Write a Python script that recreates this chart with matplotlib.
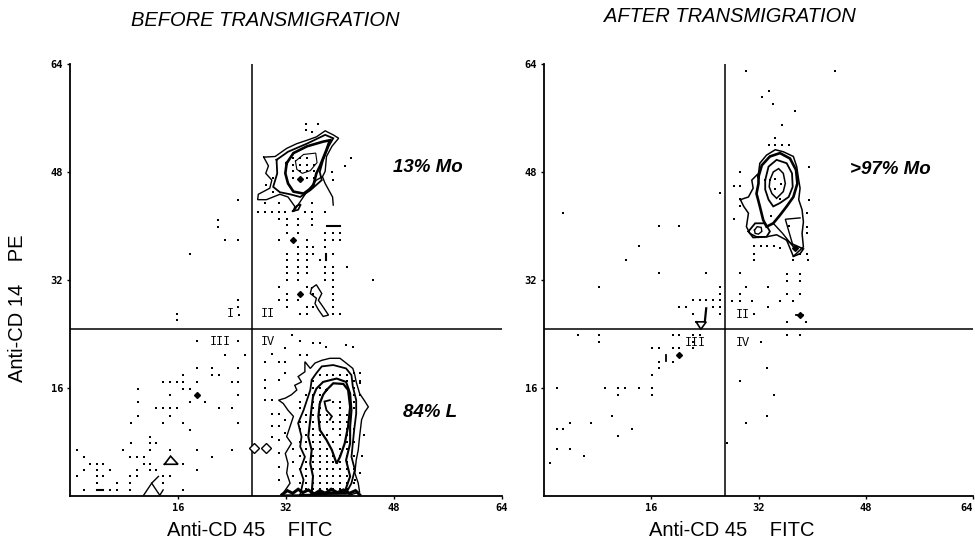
"""
Flow cytometry contour plots, before / after transmigration
"""
import matplotlib
matplotlib.use("Agg")
import matplotlib.pyplot as plt

# ---- data (channel units, 0-64) ----
ticks = [16, 32, 48, 64]
quad_x = 27.0
quad_y = 24.8

# BEFORE: monocyte cluster (quadrant II)
mo_outer = [(28.7, 50.2), (30.4, 50.3), (32.1, 51.5), (33.6, 52.2), (35.1, 52.7),
            (36.5, 53.2), (37.8, 54.1), (39.0, 53.5), (39.8, 53.0), (38.8, 51.8),
            (38.0, 50.3), (37.8, 48.1), (37.4, 47.3), (36.5, 46.8), (35.1, 45.1),
            (34.1, 43.6), (33.1, 42.1), (33.3, 42.9), (32.3, 44.3), (31.1, 44.7),
            (30.1, 44.3), (29.1, 43.9), (27.8, 43.9), (27.9, 44.7), (29.6, 45.6),
            (29.9, 46.8), (29.0, 47.8), (29.4, 48.9)]
mo_tail = [(37.4, 47.3), (37.8, 46.3), (38.9, 44.3), (39.0, 43.1)]
mo_mid = [(30.6, 49.8), (32.3, 51.0), (35.1, 52.2), (37.8, 53.5), (39.0, 53.0),
          (38.3, 51.8), (37.5, 49.8), (37.0, 48.0), (37.3, 46.8), (35.6, 45.3),
          (34.1, 44.3), (32.6, 44.7), (31.1, 45.0), (30.1, 45.8), (30.7, 47.8)]
mo_inner = [(32.1, 49.3), (33.1, 50.8), (35.1, 51.8), (37.5, 52.5), (38.5, 52.7),
            (38.0, 51.3), (37.0, 48.8), (36.5, 47.8), (36.0, 45.8), (34.6, 44.8),
            (33.1, 45.1), (32.3, 46.3), (31.9, 47.8)]
mo_core = [(33.4, 49.6), (34.6, 50.6), (36.4, 50.8), (36.6, 49.4), (35.6, 48.2),
           (34.4, 47.8), (33.6, 48.4)]
mo_blob = [(33.0, 42.2), (33.6, 43.0), (34.2, 43.2), (33.8, 42.4)]
mo_small = [(35.8, 30.8), (36.5, 31.3), (37.3, 30.0), (36.8, 29.0), (37.5, 28.0),
            (38.3, 26.8), (37.5, 26.6), (36.8, 27.6), (36.3, 28.5), (36.5, 29.3),
            (35.6, 30.0)]

# BEFORE: lymphocyte cluster (quadrant IV)
ly_c1 = [(31.4, 0.15), (32.6, 1.9), (32.1, 3.4), (32.3, 4.8), (31.9, 6.3), (32.8, 7.8),
         (32.1, 8.8), (32.6, 10.3), (33.1, 11.8), (32.3, 12.7), (31.6, 13.7), (30.9, 14.2),
         (31.9, 14.5), (32.8, 15.0), (33.6, 15.7), (33.3, 16.4), (34.3, 16.9), (33.8, 17.7),
         (34.8, 18.4), (34.8, 19.9), (35.6, 18.9), (36.3, 19.7), (37.3, 20.1), (38.5, 20.4),
         (40.0, 20.4), (40.9, 19.7), (41.9, 18.9), (42.2, 17.9), (42.4, 16.9), (42.9, 15.2),
         (43.7, 14.0), (44.2, 13.2), (43.7, 12.5), (43.2, 11.3), (42.9, 8.8), (42.7, 6.8),
         (42.4, 5.3), (42.2, 3.4), (42.7, 1.9), (42.9, 0.6), (41.5, 0.15)]
ly_c2 = [(34.1, 0.15), (34.6, 2.4), (34.1, 3.9), (34.8, 5.8), (34.1, 7.3), (34.3, 8.8),
         (33.8, 10.8), (34.6, 12.7), (35.1, 14.2), (35.6, 15.7), (35.8, 17.2), (36.5, 18.2),
         (37.3, 19.2), (39.0, 19.4), (40.9, 18.9), (41.7, 17.9), (41.9, 16.2), (42.4, 14.2),
         (42.4, 12.2), (42.1, 9.8), (41.9, 7.8), (41.7, 5.8), (42.2, 3.9), (41.7, 1.9),
         (40.9, 0.4)]
ly_c3 = [(35.8, 0.4), (36.0, 2.9), (35.6, 4.8), (35.8, 6.8), (35.3, 8.8), (35.6, 11.3),
         (35.8, 13.2), (36.0, 14.7), (36.5, 15.9), (37.5, 16.9), (39.5, 17.4), (40.9, 16.9),
         (41.5, 15.2), (41.7, 12.7), (41.5, 10.3), (41.5, 7.8), (40.9, 5.3), (41.5, 2.9),
         (40.7, 0.6)]
ly_c4 = [(38.0, 15.7), (39.0, 16.7), (40.5, 16.6), (41.2, 15.7), (41.5, 13.2), (41.2, 10.3),
         (40.7, 7.8), (40.0, 5.8), (39.5, 4.8), (38.8, 6.8), (38.0, 8.3), (37.0, 9.8),
         (36.8, 11.8), (37.0, 13.7), (37.5, 15.0)]
ly_core = [(38.5, 14.2), (37.7, 14.0), (37.8, 13.5), (38.0, 12.7), (38.8, 11.8), (38.5, 11.3)]
ly_base = [(31.4, 0.2), (32.2, 0.8), (33.0, 0.4), (33.8, 1.0), (34.5, 0.5), (35.3, 0.9),
           (36.2, 0.3), (37.0, 0.8), (37.8, 0.4), (38.7, 1.0), (39.6, 0.5), (40.5, 0.9),
           (41.4, 0.4), (42.3, 0.8), (42.9, 0.2)]

before_tri = [(14.0, 4.7), (16.0, 4.7), (14.9, 5.9)]
before_fork = [[(13.1, 2.9), (12.1, 1.9), (10.9, 0.1)], [(12.1, 1.9), (13.3, 0.1), (13.8, 0.9)]]
before_dashes = [[(4.0, 0.9), (4.9, 0.9)], [(38.0, 40.0), (40.0, 40.0)], [(37.9, 35.0), (37.9, 35.9)]]
before_filled = [(34.1, 46.9), (33.1, 37.9), (34.1, 29.9), (18.8, 15.0)]
before_hollow = [(27.2, 7.1), (29.0, 7.1)]

before_dots = [
    (34.9, 55.1), (36.8, 55.1), (34.9, 54.2), (35.8, 54.0), (40.7, 48.9), (41.7, 50.1),
    (38.8, 48.0), (39.0, 46.8),
    (33.1, 50.1), (34.1, 50.1), (35.1, 50.1), (33.1, 49.1), (34.1, 49.1), (35.1, 49.1),
    (36.1, 49.1), (33.1, 48.1), (34.1, 48.1), (35.1, 48.1), (36.1, 48.1), (33.1, 47.1),
    (35.1, 47.1), (36.1, 47.1), (30.1, 47.1), (29.1, 46.1), (30.1, 45.1),
    (27.9, 42.1), (28.9, 42.1), (29.9, 42.1), (30.9, 42.1), (31.9, 42.1), (34.8, 42.1),
    (35.8, 42.1), (37.8, 42.1), (28.9, 43.4), (30.9, 43.4), (35.8, 43.4),
    (30.9, 41.1), (32.1, 41.1), (33.8, 41.1), (35.8, 41.1), (32.1, 40.1), (33.8, 40.1),
    (35.8, 40.1), (32.1, 39.0), (33.8, 39.0), (37.8, 39.0), (39.0, 39.0), (40.0, 39.0),
    (30.9, 37.9), (35.1, 37.9), (37.8, 37.9), (39.0, 37.9), (40.0, 37.9),
    (33.8, 36.9), (35.1, 36.9), (36.0, 36.9), (37.8, 36.9),
    (32.1, 35.9), (33.8, 35.9), (35.1, 35.9), (36.0, 35.9), (39.0, 35.9),
    (32.1, 34.9), (33.8, 34.9), (35.1, 34.9), (37.0, 34.9),
    (32.1, 34.0), (33.8, 34.0), (35.1, 34.0), (37.8, 34.0), (39.0, 34.0), (41.0, 34.0),
    (32.1, 33.0), (33.8, 33.0), (35.1, 33.0), (37.8, 33.0), (39.0, 33.0),
    (32.1, 32.0), (33.8, 32.0), (37.8, 32.0), (39.0, 32.0), (44.9, 32.0),
    (30.9, 31.0), (35.1, 31.0), (39.0, 31.0), (32.1, 30.0), (36.0, 30.0), (39.0, 30.0),
    (30.9, 29.0), (32.1, 29.0), (33.8, 29.0), (39.0, 29.0),
    (32.1, 28.0), (35.1, 28.0), (36.0, 28.0), (39.0, 28.0),
    (34.1, 27.0), (35.1, 27.0), (39.0, 27.0), (40.0, 27.0),
    (24.9, 43.9), (21.9, 40.9), (21.9, 39.9), (23.0, 37.9), (24.9, 37.9), (17.8, 35.9),
    (24.9, 29.0), (24.9, 28.0), (15.9, 27.0), (15.9, 26.1), (25.0, 26.8),
    (18.8, 22.9), (24.9, 22.9), (23.0, 20.9), (25.9, 20.9), (18.8, 18.9), (21.0, 18.9),
    (24.9, 18.9), (16.8, 18.0), (21.0, 18.0), (22.0, 18.0),
    (13.8, 16.9), (14.8, 16.9), (15.8, 16.9), (16.8, 16.9), (18.8, 16.9), (24.0, 16.9),
    (24.9, 16.9), (10.0, 15.9), (16.8, 15.9), (17.8, 15.9), (14.8, 15.0), (24.9, 15.0),
    (10.0, 14.0), (17.8, 14.0), (20.0, 14.0),
    (12.8, 13.0), (13.8, 13.0), (14.8, 13.0), (15.8, 13.0), (22.0, 13.0), (24.0, 13.0),
    (10.0, 11.8), (14.8, 11.8), (9.0, 10.8), (13.8, 10.8), (16.8, 10.8), (24.9, 10.8),
    (17.8, 9.8), (11.9, 8.8), (9.0, 7.8), (11.9, 7.8), (12.8, 7.8),
    (1.0, 6.8), (7.9, 6.8), (11.9, 6.8), (14.8, 6.8), (18.8, 6.8), (24.0, 6.8),
    (2.0, 5.8), (8.9, 5.8), (9.9, 5.8), (10.9, 5.8), (21.0, 5.8),
    (3.0, 4.8), (4.0, 4.8), (4.9, 4.8), (10.9, 4.8), (11.9, 4.8), (16.8, 4.8),
    (2.0, 3.9), (4.0, 3.9), (5.9, 3.9), (9.9, 3.9), (11.9, 3.9), (12.8, 3.9), (18.8, 3.9),
    (1.0, 2.9), (4.0, 2.9), (4.9, 2.9), (8.9, 2.9), (9.9, 2.9), (13.8, 2.9), (14.8, 2.9),
    (4.0, 1.9), (6.9, 1.9), (8.9, 1.9), (13.8, 1.9),
    (2.0, 0.9), (5.9, 0.9), (6.9, 0.9), (8.9, 0.9), (16.8, 0.9),
    (28.9, 19.9), (28.9, 17.2), (28.9, 16.0), (28.9, 14.2), (29.9, 21.1), (29.9, 14.2),
    (29.9, 12.2), (29.9, 10.3), (29.9, 8.8), (30.9, 19.9), (30.9, 17.2), (30.9, 12.2),
    (30.9, 10.3), (30.9, 8.3), (30.9, 6.3), (30.9, 4.3), (30.9, 2.4), (31.9, 22.0),
    (31.9, 19.9), (31.9, 18.2), (31.9, 11.3), (31.9, 9.3), (32.9, 23.9), (34.1, 22.9),
    (36.0, 22.6), (37.0, 22.6), (37.9, 22.1), (40.9, 22.4), (41.9, 22.1), (34.1, 20.9),
    (35.1, 20.9), (42.0, 18.2), (43.0, 18.2), (43.0, 16.7), (43.0, 3.4), (42.2, 2.4),
    (43.5, 9.0), (43.3, 6.0),
]
# dots inside the lymphocyte cluster, one row per PE channel
ly_dot_rows = [
    (18, [37, 38, 39, 40, 41]),
    (17, [36, 41, 42, 43]),
    (16, [36, 37, 42]),
    (15, [35, 36, 37, 42, 43]),
    (14, [34, 36, 37, 39, 40, 42]),
    (13, [34, 36, 37, 40, 42]),
    (12, [35, 36, 37, 38, 40, 41]),
    (11, [34, 35, 36, 37, 38, 39, 40, 41]),
    (10, [34, 36, 37, 39, 40, 41, 42]),
    (9, [35, 36, 37, 38, 40, 41]),
    (8, [34, 35, 36, 37, 39, 41, 42]),
    (7, [33, 35, 36, 37, 38, 40, 41]),
    (6, [34, 36, 37, 38, 39, 40, 41, 42]),
    (5, [33, 35, 36, 37, 38, 39, 40, 41]),
    (4, [34, 35, 36, 37, 38, 39, 40, 41, 42]),
    (3, [33, 35, 36, 37, 38, 39, 40, 41]),
    (2, [34, 35, 36, 37, 38, 39, 40, 41, 42]),
    (1, [35, 36, 37, 38, 39, 40, 41]),
]

# AFTER: monocyte cluster
af_c1 = [(29.3, 43.9), (30.5, 44.3), (31.2, 45.6), (31.0, 46.8), (32.0, 47.8), (32.2, 49.3),
         (33.2, 50.5), (34.5, 51.3), (35.7, 51.0), (37.2, 50.3), (37.7, 48.8), (38.0, 46.8),
         (38.2, 45.6), (38.0, 43.9), (38.5, 42.4), (38.7, 40.6), (38.5, 38.9), (38.7, 36.9),
         (37.2, 35.5), (36.7, 36.7), (36.2, 37.9), (34.7, 38.7), (33.2, 38.4), (31.7, 38.4),
         (30.7, 38.9), (30.2, 39.9), (30.5, 41.9), (29.8, 42.9)]
af_c2 = [(32.0, 47.3), (32.5, 49.0), (33.7, 50.3), (35.2, 50.8), (36.7, 50.0), (37.6, 48.3),
         (37.8, 46.3), (37.2, 44.3), (36.2, 42.9), (35.2, 41.6), (34.2, 40.4), (33.2, 39.9),
         (32.7, 40.9), (32.2, 42.9), (31.7, 44.8), (32.0, 46.3)]
af_c3 = [(33.0, 46.8), (33.5, 48.8), (34.7, 49.8), (36.2, 49.3), (37.0, 47.8), (37.1, 45.8),
         (36.5, 44.3), (35.2, 43.4), (34.2, 42.9), (33.5, 43.9), (33.0, 45.4)]
af_c4 = [(33.7, 46.8), (34.2, 48.0), (35.0, 48.5), (35.7, 47.8), (36.0, 46.3), (35.7, 45.1),
         (34.7, 44.1), (34.0, 44.8), (33.6, 45.8)]
af_loop = [(30.5, 39.2), (31.5, 40.4), (33.0, 40.4), (33.7, 39.2), (33.2, 38.4), (31.2, 38.3)]
af_ring = [(31.4, 39.4), (31.8, 39.9), (32.4, 39.8), (32.5, 39.2), (32.0, 38.8), (31.5, 38.9)]
af_tail = [(36.2, 37.9), (36.9, 37.4), (38.7, 36.6), (38.2, 35.9), (37.2, 35.5)]
af_cross = [(34.2, 40.4), (35.6, 38.9), (37.2, 36.9), (36.0, 41.0), (38.2, 41.2)]
after_tri = [(22.7, 25.8), (24.2, 25.8), (23.4, 24.7)]
after_tick = [(24.0, 25.9), (24.2, 27.8)]
after_dashes = [[(18.2, 20.0), (18.2, 20.9)], [(37.6, 26.8), (38.6, 26.8)]]
after_filled = [(20.2, 20.9), (38.2, 26.8), (37.5, 36.7)]

after_dots = [
    (30.2, 63.0), (43.4, 62.9), (33.5, 60.0), (32.5, 59.1), (34.2, 58.1), (37.5, 57.0),
    (35.5, 55.0), (34.5, 53.0), (33.5, 52.0), (34.5, 52.0), (35.5, 52.0), (36.5, 52.0),
    (39.5, 48.7), (29.2, 48.0), (28.3, 46.0), (29.3, 46.0), (26.2, 44.9), (29.3, 44.0),
    (29.3, 43.0), (28.3, 41.0), (39.5, 43.9), (39.2, 41.9), (39.2, 39.9), (39.2, 38.9),
    (34.5, 47.0), (34.5, 45.5), (35.3, 46.2), (33.8, 41.5), (35.2, 44.0), (36.5, 40.0),
    (2.9, 42.0), (17.1, 40.0), (20.2, 40.0), (14.2, 37.0), (12.2, 35.0), (17.1, 33.0),
    (24.2, 33.0), (8.2, 31.0),
    (31.3, 37.0), (32.3, 37.0), (33.3, 37.0), (34.3, 37.0), (35.2, 36.8),
    (31.3, 35.8), (31.3, 35.0), (37.2, 34.9), (39.4, 34.9), (38.2, 35.9), (39.2, 35.9),
    (36.2, 32.9), (38.2, 32.9), (29.3, 33.0), (36.2, 31.9), (38.2, 31.9),
    (26.2, 31.0), (30.1, 31.0), (33.4, 31.0), (26.2, 30.0), (29.3, 30.0), (38.2, 29.9),
    (36.2, 29.9), (22.2, 29.0), (23.2, 29.0), (24.2, 29.0), (25.2, 29.0), (26.2, 29.0),
    (28.0, 28.9), (29.2, 28.9), (31.0, 28.9), (35.2, 28.9), (37.2, 28.9),
    (20.2, 28.0), (21.2, 28.0), (25.2, 28.0), (26.2, 28.0), (33.4, 28.0),
    (22.2, 26.9), (26.2, 26.9), (31.3, 27.0), (36.2, 25.8), (39.1, 25.8),
    (5.0, 23.8), (8.2, 23.8), (8.2, 22.8), (19.2, 23.8), (20.2, 23.8), (22.2, 23.8),
    (23.2, 23.8), (36.2, 23.8), (38.2, 23.8), (32.3, 22.8),
    (16.1, 21.9), (17.1, 21.9), (19.2, 21.9), (20.2, 21.9), (22.2, 21.9), (22.2, 22.8),
    (17.1, 19.9), (19.2, 19.9), (17.1, 18.9), (16.1, 17.9),
    (1.9, 16.0), (9.1, 16.0), (11.1, 16.0), (12.1, 16.0), (14.1, 16.0), (16.1, 16.0),
    (11.1, 14.9), (16.1, 14.9),
    (29.3, 17.0), (33.3, 18.9), (34.3, 15.0), (33.3, 11.8), (30.2, 10.8), (27.3, 7.9),
    (10.1, 11.8), (3.9, 10.8), (7.0, 10.8), (1.9, 9.9), (2.9, 9.9), (13.1, 9.9),
    (11.0, 8.9), (1.9, 6.9), (3.9, 6.9), (5.9, 5.9), (0.9, 4.9),
]

# percentage labels: (x, y, text)
before_notes = [(53.0, 48.7, "13% Mo"), (53.3, 12.4, "84% L")]
after_notes = [(51.6, 48.3, ">97% Mo")]
quad_labels = [(23.7, 27.0, "I"), (29.3, 27.0, "II"), (22.2, 22.8, "III"), (29.3, 22.8, "IV")]
after_quad_labels = [(29.6, 26.8, "II"), (22.5, 22.7, "III"), (29.6, 22.7, "IV")]


def poly(ax, pts, lw=1.0, closed=True):
    xs = [p[0] for p in pts]
    ys = [p[1] for p in pts]
    if closed:
        xs.append(xs[0])
        ys.append(ys[0])
    ax.plot(xs, ys, color="black", lw=lw, solid_joinstyle="miter")


def dots(ax, pts):
    ax.scatter([p[0] for p in pts], [p[1] for p in pts], s=1.0, marker="s",
               color="black", linewidths=0)


def setup(ax):
    ax.set_xlim(0, 64)
    ax.set_ylim(0, 64)
    for s in ["top", "right"]:
        ax.spines[s].set_visible(False)
    for s in ["left", "bottom"]:
        ax.spines[s].set_linewidth(1.3)
    ax.set_xticks(ticks)
    ax.set_yticks(ticks)
    ax.set_xticklabels([str(t) for t in ticks], family="DejaVu Sans Mono",
                       fontsize=7.5, fontweight="bold")
    ax.set_yticklabels([str(t) for t in ticks], family="DejaVu Sans Mono",
                       fontsize=7.5, fontweight="bold")
    ax.tick_params(direction="out", length=2, width=1, pad=3)
    ax.axvline(quad_x, color="black", lw=1.1)
    ax.axhline(quad_y, color="black", lw=1.1)


fig = plt.figure(figsize=(9.75, 5.5), dpi=100)
ax1 = fig.add_axes([70 / 975, 54 / 550, 432 / 975, 432 / 550])
ax2 = fig.add_axes([544 / 975, 54 / 550, 429 / 975, 432 / 550])
setup(ax1)
setup(ax2)
ax2.get_xticklabels()[-1].set_horizontalalignment("right")

# ---- before ----
dots(ax1, before_dots)
dots(ax1, [(x, y) for y, xs in ly_dot_rows for x in xs])
poly(ax1, mo_outer, 1.0)
poly(ax1, mo_tail, 1.0, closed=False)
poly(ax1, mo_mid, 1.3)
poly(ax1, mo_inner, 1.9)
poly(ax1, mo_core, 0.8)
poly(ax1, mo_blob, 1.2)
poly(ax1, mo_small, 1.0)
poly(ax1, ly_c1, 1.0)
poly(ax1, ly_c2, 1.3)
poly(ax1, ly_c3, 1.5)
poly(ax1, ly_c4, 1.6)
poly(ax1, ly_core, 1.3, closed=False)
poly(ax1, ly_base, 2.2, closed=False)
poly(ax1, before_tri, 1.2)
for seg in before_fork:
    poly(ax1, seg, 1.0, closed=False)
for seg in before_dashes:
    poly(ax1, seg, 1.5, closed=False)
ax1.plot([p[0] for p in before_filled], [p[1] for p in before_filled], "D",
         color="black", ms=3)
ax1.plot([p[0] for p in before_hollow], [p[1] for p in before_hollow], "D",
         mfc="white", mec="black", mew=1, ms=5)
for x, y, t in before_notes:
    ax1.text(x, y, t, ha="center", va="center", fontsize=13.5, fontweight="bold",
             style="italic", family="Liberation Sans")
for x, y, t in quad_labels:
    ax1.text(x, y, t, ha="center", va="center", fontsize=8.5, family="Liberation Mono")

# ---- after ----
dots(ax2, after_dots)
poly(ax2, af_c1, 1.1)
poly(ax2, af_c2, 1.9)
poly(ax2, af_c3, 1.3)
poly(ax2, af_c4, 1.1)
poly(ax2, af_loop, 1.3)
poly(ax2, af_ring, 1.0)
poly(ax2, af_tail, 1.2, closed=False)
poly(ax2, af_cross, 1.0, closed=False)
poly(ax2, after_tri, 1.2)
poly(ax2, after_tick, 1.6, closed=False)
for seg in after_dashes:
    poly(ax2, seg, 1.3, closed=False)
ax2.plot([p[0] for p in after_filled], [p[1] for p in after_filled], "D",
         color="black", ms=3)
for x, y, t in after_notes:
    ax2.text(x, y, t, ha="center", va="center", fontsize=13.5, fontweight="bold",
             style="italic", family="Liberation Sans")
for x, y, t in after_quad_labels:
    ax2.text(x, y, t, ha="center", va="center", fontsize=8.5, family="Liberation Mono")

# ---- titles and axis labels ----
fig.text(265 / 975, 1 - 20 / 550, "BEFORE TRANSMIGRATION", ha="center", va="center",
         fontsize=14.5, style="italic", family="Liberation Sans")
fig.text(730 / 975, 1 - 17 / 550, "AFTER TRANSMIGRATION", ha="center", va="center",
         fontsize=14.5, style="italic", family="Liberation Sans")
fig.text(18 / 975, 1 - 308 / 550, "Anti-CD 14    PE", ha="center", va="center",
         rotation=90, fontsize=14.5, family="Liberation Sans")
fig.text(250 / 975, 1 - 530 / 550, "Anti-CD 45    FITC", ha="center", va="center",
         fontsize=14.5, family="Liberation Sans")
fig.text(732 / 975, 1 - 530 / 550, "Anti-CD 45    FITC", ha="center", va="center",
         fontsize=14.5, family="Liberation Sans")

fig.savefig("out.png", dpi=100)
